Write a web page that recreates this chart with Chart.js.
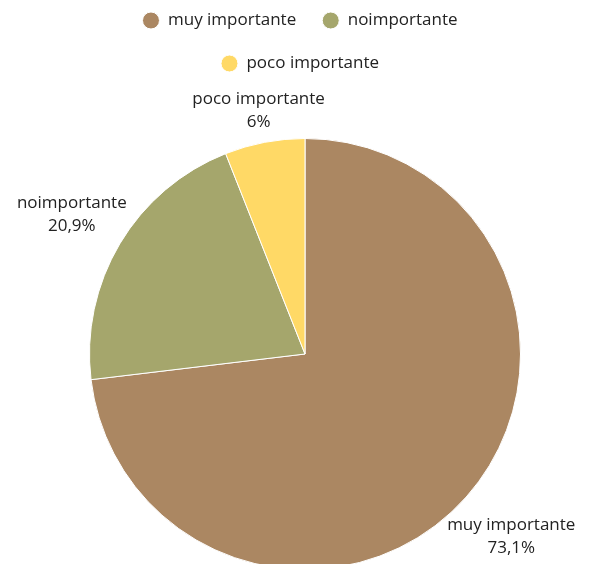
<!DOCTYPE html>
<html>
<head>
<meta charset="utf-8">
<script src="https://cdn.jsdelivr.net/npm/chart.js@4.4.0/dist/chart.umd.min.js"></script>
<style>
  html, body { margin: 0; padding: 0; background: #fff; }
  #wrap { width: 590px; height: 564px; }
</style>
</head>
<body>
<div id="wrap"><canvas id="grafico" width="590" height="564"></canvas></div>
<script>
var categorias = ["muy importante", "noimportante", "poco importante"];
var valores = [73.1, 20.9, 6.0];
var colores = ["#ab8762", "#a5a66c", "#ffd966"];

function porcentaje(v, total) {
  var p = Math.round(v / total * 1000) / 10;
  return String(p).replace('.', ',') + '%';
}

// etiquetas fuera de cada porción (nombre + porcentaje)
var etiquetas = {
  id: 'etiquetas',
  afterDatasetsDraw: function(chart) {
    var ctx = chart.ctx;
    var meta = chart.getDatasetMeta(0);
    var total = valores.reduce(function(a, b) { return a + b; }, 0);
    var lineH = 23;
    ctx.save();
    ctx.font = '17px "Open Sans"';
    ctx.fillStyle = '#222';
    ctx.textAlign = 'center';
    ctx.textBaseline = 'middle';
    meta.data.forEach(function(arc, i) {
      var p = arc.getProps(['x', 'y', 'startAngle', 'endAngle', 'outerRadius'], true);
      var mid = (p.startAngle + p.endAngle) / 2;
      var dx = Math.cos(mid), dy = Math.sin(mid);
      var lineas = [categorias[i], porcentaje(valores[i], total)];
      var w = Math.max.apply(null, lineas.map(function(t) { return ctx.measureText(t).width; }));
      var h = lineas.length * lineH;
      var r = p.outerRadius + Math.abs(dx) * w / 2 + Math.abs(dy) * h / 2 - 3;
      var cx = p.x + dx * r, cy = p.y + dy * r;
      lineas.forEach(function(t, j) {
        ctx.fillText(t, cx, cy + (j - (lineas.length - 1) / 2) * lineH);
      });
    });
    ctx.restore();
  }
};

// el pastel baja y se sale un poco del lienzo; la leyenda sube un poco
var ajuste = {
  id: 'ajuste',
  afterLayout: function(chart) {
    var a = chart.chartArea;
    a.bottom += 48;
    a.height = a.bottom - a.top;
    var l = chart.legend;
    l.top -= 14; l.bottom -= 14;
    l.left -= 5; l.right -= 5;
  }
};

var ctx = document.getElementById('grafico');
var grafico = new Chart(ctx, {
  type: 'pie',
  data: {
    labels: categorias,
    datasets: [{
      data: valores,
      backgroundColor: colores,
      borderColor: '#fff',
      borderWidth: 1
    }]
  },
  options: {
    responsive: false,
    animation: false,
    layout: { padding: { top: 0, left: 89, right: 69, bottom: 0 } },
    plugins: {
      legend: {
        position: 'top',
        labels: {
          usePointStyle: true,
          pointStyle: 'circle',
          boxHeight: 12,
          padding: 26,
          color: '#222',
          font: { family: '"Open Sans"', size: 17 }
        }
      },
      tooltip: { enabled: false }
    }
  },
  plugins: [etiquetas, ajuste]
});
</script>
</body>
</html>
